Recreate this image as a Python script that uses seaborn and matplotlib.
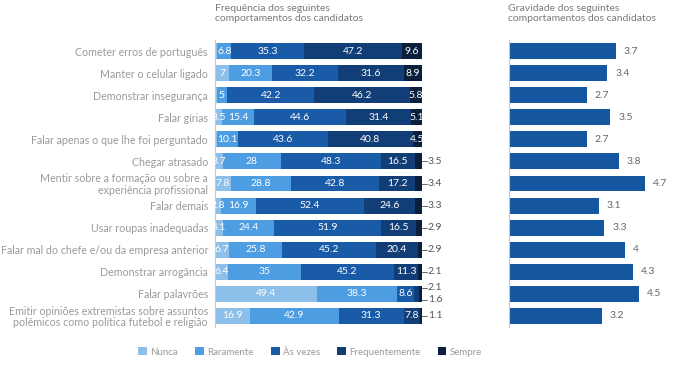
import numpy as np
import pandas as pd
import matplotlib
matplotlib.use("Agg")
import matplotlib.pyplot as plt
from matplotlib.patches import Patch
import seaborn as sns

categories = [
    "Cometer erros de português",
    "Manter o celular ligado",
    "Demonstrar insegurança",
    "Falar gírias",
    "Falar apenas o que lhe foi perguntado",
    "Chegar atrasado",
    "Mentir sobre a formação ou sobre a\nexperiência profissional",
    "Falar demais",
    "Usar roupas inadequadas",
    "Falar mal do chefe e/ou da empresa anterior",
    "Demonstrar arrogância",
    "Falar palavrões",
    "Emitir opiniões extremistas sobre assuntos\npolêmicos como política futebol e religião",
]
nunca = [1.1, 7, 0.8, 3.5, 1.0, 3.7, 7.8, 2.8, 4.1, 6.7, 6.4, 49.4, 16.9]
raramente = [6.8, 20.3, 5, 15.4, 10.1, 28, 28.8, 16.9, 24.4, 25.8, 35, 38.3, 42.9]
as_vezes = [35.3, 32.2, 42.2, 44.6, 43.6, 48.3, 42.8, 52.4, 51.9, 45.2, 45.2, 8.6, 31.3]
frequentemente = [47.2, 31.6, 46.2, 31.4, 40.8, 16.5, 17.2, 24.6, 16.5, 20.4, 11.3, 2.1, 7.8]
sempre = [9.6, 8.9, 5.8, 5.1, 4.5, 3.5, 3.4, 3.3, 2.9, 2.9, 2.1, 1.6, 1.1]
gravidade = [3.7, 3.4, 2.7, 3.5, 2.7, 3.8, 4.7, 3.1, 3.3, 4.0, 4.3, 4.5, 3.2]

series_names = ["Nunca", "Raramente", "Às vezes", "Frequentemente", "Sempre"]
series_colors = ["#8cc0ea", "#4d9de2", "#1a5ba7", "#123e78", "#0b1f3d"]
bar_color = "#14569f"
grey = "#9a9a9a"

sns.set_style("white")
plt.rcParams["font.family"] = ["Lato", "DejaVu Sans"]

fig = plt.figure(figsize=(6.73, 3.71), dpi=100)
W, H = 673, 371
ax = fig.add_axes([215 / W, 1 - 327 / H, 207 / W, 287 / H])
ax2 = fig.add_axes([509 / W, 1 - 327 / H, 162 / W, 287 / H])

df = pd.DataFrame({"categoria": categories, "Nunca": nunca, "Raramente": raramente,
                   "Às vezes": as_vezes, "Frequentemente": frequentemente, "Sempre": sempre})
vals = df[series_names].to_numpy()
cum = vals.cumsum(axis=1)

# stacked bars: draw cumulative totals from last to first
for i in range(len(series_names) - 1, -1, -1):
    tmp = pd.DataFrame({"categoria": categories, "cum": cum[:, i]})
    sns.barplot(data=tmp, x="cum", y="categoria", color=series_colors[i], orient="h",
                width=0.72, ax=ax, saturation=1, linewidth=0)

n = len(categories)
for r in range(n):
    outside = [j for j in (3, 4) if vals[r, j] < 4]
    for j in range(5):
        v = vals[r, j]
        if j in outside or v < 2:
            continue
        center = cum[r, j] - v / 2
        ax.text(center, r, f"{v:g}", ha="center", va="center", color="white",
                fontsize=7.5, clip_on=False)
    for k, j in enumerate(outside):
        v = vals[r, j]
        dy = 0 if len(outside) == 1 else (-0.27 if k == 0 else 0.27)
        ax.plot([100, 102.3], [r + dy, r + dy], color="#666666", lw=0.7, clip_on=False)
        ax.text(102.8, r + dy, f"{v:g}", ha="left", va="center", color="#555555",
                fontsize=7.5, clip_on=False)

ax.set_xlim(0, 100)
ax.set_ylim(n - 0.5, -0.5)
ax.set_xlabel("")
ax.set_ylabel("")
ax.set_xticks([])
ax.tick_params(axis="y", length=0, pad=5, labelsize=7.7, labelcolor=grey)
for lab in ax.get_yticklabels():
    lab.set_linespacing(1.0)
for s in ["top", "right", "bottom"]:
    ax.spines[s].set_visible(False)
ax.spines["left"].set_color("#c8c8c8")
ax.spines["left"].set_linewidth(0.8)

# right panel
df2 = pd.DataFrame({"categoria": categories, "gravidade": gravidade})
sns.barplot(data=df2, x="gravidade", y="categoria", color=bar_color, orient="h",
            width=0.72, ax=ax2, saturation=1, linewidth=0)
for r, v in enumerate(gravidade):
    ax2.text(v + 0.27, r, f"{v:g}", ha="left", va="center", color="#666666", fontsize=7.5)
ax2.set_xlim(0, 5.6)
ax2.set_ylim(n - 0.5, -0.5)
ax2.set_xlabel("")
ax2.set_ylabel("")
ax2.set_xticks([])
ax2.set_yticks([])
for s in ["top", "right", "bottom"]:
    ax2.spines[s].set_visible(False)
ax2.spines["left"].set_color("#c8c8c8")
ax2.spines["left"].set_linewidth(0.8)

fig.text(215 / W, 1 - 4 / H, "Frequência dos seguintes\ncomportamentos dos candidatos",
         ha="left", va="top", fontsize=7.5, color="#7a7a7a", linespacing=1.15)
fig.text(508 / W, 1 - 4 / H, "Gravidade dos seguintes\ncomportamentos dos candidatos",
         ha="left", va="top", fontsize=7.5, color="#7a7a7a", linespacing=1.15)

handles = [Patch(facecolor=c, edgecolor="none") for c in series_colors]
leg = fig.legend(handles, series_names, loc="center", bbox_to_anchor=(310 / W, 1 - 352 / H),
                 ncol=5, frameon=False, fontsize=7, handlelength=0.9, handleheight=0.9,
                 columnspacing=1.8, handletextpad=0.3)
for t in leg.get_texts():
    t.set_color(grey)

fig.savefig("out.png", dpi=100, facecolor="white")
